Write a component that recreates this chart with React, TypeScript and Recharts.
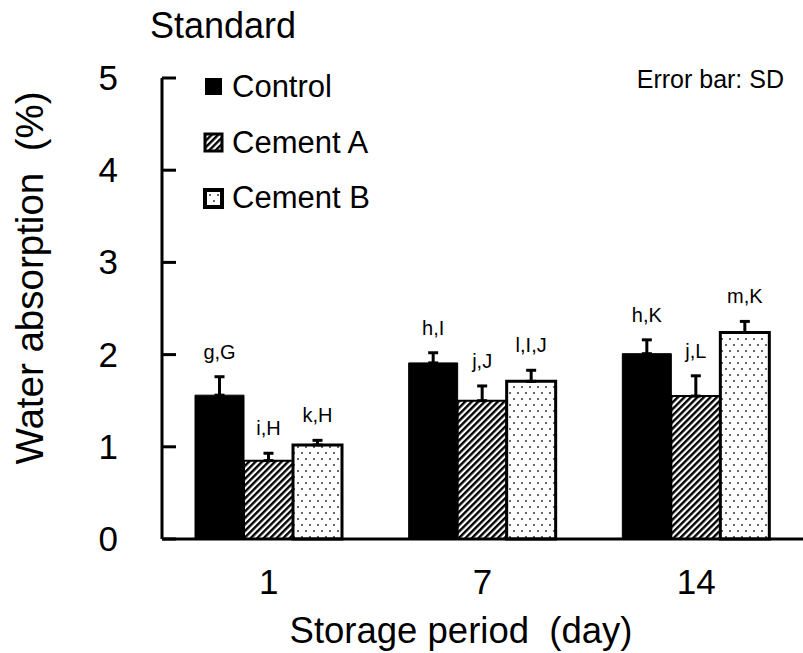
import { BarChart, Bar, XAxis, YAxis, ErrorBar, LabelList, Label } from "recharts";

const FONT = "'Liberation Sans', Arial, sans-serif";

// storage period (day)
const days = ["1", "7", "14"];
// water absorption (%)
const control = [1.56, 1.91, 2.01];
const cementA = [0.85, 1.5, 1.55];
const cementB = [1.02, 1.71, 2.24];
// SD
const controlSd = [0.2, 0.11, 0.15];
const cementASd = [0.08, 0.16, 0.22];
const cementBSd = [0.05, 0.12, 0.12];
// significance letters
const controlTags = ["g,G", "h,I", "h,K"];
const cementATags = ["i,H", "j,J", "j,L"];
const cementBTags = ["k,H", "l,I,J", "m,K"];
const yTicks = [0, 1, 2, 3, 4, 5];

const data = days.map((d, i) => ({
    day: d,
    control: control[i],
    cementA: cementA[i],
    cementB: cementB[i],
    controlErr: [0, controlSd[i]],
    cementAErr: [0, cementASd[i]],
    cementBErr: [0, cementBSd[i]],
    controlTag: controlTags[i],
    cementATag: cementATags[i],
    cementBTag: cementBTags[i],
}));

const legendItems = [
    { name: "Control", fill: "#000", sw: 0 },
    { name: "Cement A", fill: "url(#stripeA)", sw: 3 },
    { name: "Cement B", fill: "url(#dotsB)", sw: 4 },
];

// letters sit just above the top of the error bar
const tagLabel = (vals: number[], sds: number[]) => (props: any) => {
    const { x, y, width, height, value, index } = props;
    const errTop = y - (sds[index] * height) / vals[index];
    return (
        <text x={x + width / 2} y={errTop - 18} textAnchor="middle" fontSize={20} fontFamily={FONT} fill="#000">
            {value}
        </text>
    );
};

const YTick = (props: any) => {
    const { x, y, payload } = props;
    return (
        <g>
            <line x1={x} x2={x + 14} y1={y} y2={y} stroke="#000" strokeWidth={3} />
            <text x={x - 44} y={y + 12} textAnchor="end" fontSize={35} fontFamily={FONT} fill="#000">
                {payload.value}
            </text>
        </g>
    );
};

const XTick = (props: any) => {
    const { x, y, payload } = props;
    return (
        <text x={x} y={y + 55} textAnchor="middle" fontSize={35} fontFamily={FONT} fill="#000">
            {payload.value}
        </text>
    );
};

const XTitle = () => (
    <text x={461} y={643} textAnchor="middle" fontSize={36.5} fontFamily={FONT} fill="#000">
        {"Storage period\u00a0 (day)"}
    </text>
);

const YTitle = () => (
    <text x={43} y={278} transform="rotate(-90 43 278)" textAnchor="middle" fontSize={38.5} fontFamily={FONT} fill="#000">
        {"Water absorption\u00a0 (%)"}
    </text>
);

export default function App() {
    return (
        <div style={{ position: "absolute", left: 0, top: 0, width: 803, height: 653, background: "#fff" }}>
            <BarChart
                width={803}
                height={653}
                data={data}
                margin={{ top: 78, right: 0, bottom: 54, left: 102 }}
                barCategoryGap={33}
                barGap={0}
            >
                <defs>
                    <pattern id="stripeA" patternUnits="userSpaceOnUse" width={4.6} height={4.6} patternTransform="rotate(45)">
                        <rect x={0} y={0} width={4.6} height={4.6} fill="#fff" />
                        <rect x={0} y={0} width={2.4} height={4.6} fill="#000" />
                    </pattern>
                    <pattern id="dotsB" patternUnits="userSpaceOnUse" width={8} height={12}>
                        <rect x={0} y={0} width={8} height={12} fill="#fff" />
                        <circle cx={2} cy={3} r={1.1} fill="#444" />
                        <circle cx={6} cy={9} r={1.1} fill="#444" />
                    </pattern>
                </defs>
                <XAxis
                    dataKey="day"
                    height={60}
                    axisLine={{ stroke: "#000", strokeWidth: 3 }}
                    tickLine={false}
                    tickSize={0}
                    tickMargin={0}
                    tick={<XTick />}
                >
                    <Label content={<XTitle />} />
                </XAxis>
                <YAxis
                    width={60}
                    domain={[0, 5]}
                    ticks={yTicks}
                    axisLine={{ stroke: "#000", strokeWidth: 3 }}
                    tickLine={false}
                    tickSize={0}
                    tickMargin={0}
                    tick={<YTick />}
                >
                    <Label content={<YTitle />} />
                </YAxis>
                <Bar dataKey="control" name="Control" fill="#000" stroke="#000" strokeWidth={1} isAnimationActive={false}>
                    <ErrorBar dataKey="controlErr" width={5} stroke="#000" strokeWidth={3} />
                    <LabelList dataKey="controlTag" content={tagLabel(control, controlSd)} />
                </Bar>
                <Bar dataKey="cementA" name="Cement A" fill="url(#stripeA)" stroke="#000" strokeWidth={2} isAnimationActive={false}>
                    <ErrorBar dataKey="cementAErr" width={5} stroke="#000" strokeWidth={3} />
                    <LabelList dataKey="cementATag" content={tagLabel(cementA, cementASd)} />
                </Bar>
                <Bar dataKey="cementB" name="Cement B" fill="url(#dotsB)" stroke="#000" strokeWidth={3} isAnimationActive={false}>
                    <ErrorBar dataKey="cementBErr" width={5} stroke="#000" strokeWidth={3} />
                    <LabelList dataKey="cementBTag" content={tagLabel(cementB, cementBSd)} />
                </Bar>
            </BarChart>
            <svg width={803} height={653} style={{ position: "absolute", left: 0, top: 0, pointerEvents: "none" }}>
                <text x={150} y={38} fontSize={36} fontFamily={FONT} fill="#000">Standard</text>
                <text x={784} y={88} textAnchor="end" fontSize={25} fontFamily={FONT} fill="#000">Error bar: SD</text>
                {legendItems.map((it, i) => (
                    <g key={it.name}>
                        <rect x={205} y={78 + i * 56} width={17} height={17} fill={it.fill} stroke="#000" strokeWidth={it.sw} />
                        <text x={232} y={97 + i * 55.5} fontSize={31} fontFamily={FONT} fill="#000">{it.name}</text>
                    </g>
                ))}
            </svg>
        </div>
    );
}
